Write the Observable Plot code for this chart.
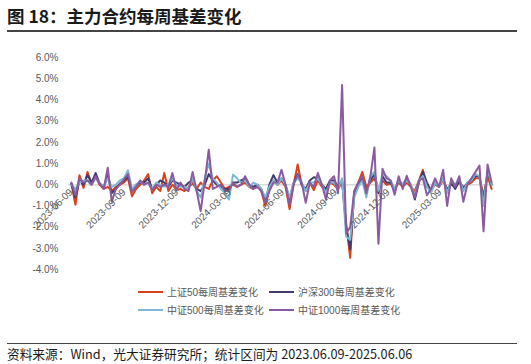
<!DOCTYPE html>
<html><head><meta charset="utf-8">
<script src="https://cdn.jsdelivr.net/npm/d3@7"></script>
<script src="https://cdn.jsdelivr.net/npm/@observablehq/plot@0.6"></script>
<style>
body{margin:0;width:531px;height:364px;position:relative;background:#fff;overflow:hidden;font-family:"Liberation Sans","Noto Sans CJK SC",sans-serif}
#title{position:absolute;left:7px;top:3px;font-weight:bold;font-size:17.5px;font-family:"Noto Sans CJK SC",sans-serif;color:#1a1a1a;white-space:nowrap}
#tline{position:absolute;left:7px;top:30px;width:510px;height:1.5px;background:#444}
#chart{position:absolute;left:0;top:0}
.lg{position:absolute;font-size:10px;color:#595959;font-family:"Liberation Sans","Noto Sans CJK SC",sans-serif;white-space:nowrap;line-height:14px}
.sw{display:inline-block;width:25px;height:2px;vertical-align:middle;margin-right:4px;position:relative;top:-1px}
#bline{position:absolute;left:7px;top:343px;width:510px;height:1px;background:#444}
#src{position:absolute;left:7px;top:344px;font-size:12.7px;color:#1a1a1a;font-family:"Noto Sans CJK SC",sans-serif;white-space:nowrap}
</style></head>
<body>
<div id="title">图 18：主力合约每周基差变化</div>
<div id="tline"></div>
<div id="chart"></div>
<div id="legend"></div>
<div id="bline"></div>
<div id="src">资料来源：Wind，光大证券研究所；统计区间为 2023.06.09-2025.06.06</div>
<script>
const seriesNames = ["上证50每周基差变化","沪深300每周基差变化","中证500每周基差变化","中证1000每周基差变化"];
const seriesColors = ["#D4431B","#3F3B6E","#7DB8D2","#8A5B9E"];
const tickLabels = ["2023-06-09","2023-09-09","2023-12-09","2024-03-09","2024-06-09","2024-09-09","2024-12-09","2025-03-09"];
const yTicks = [-4,-3,-2,-1,0,1,2,3,4,5,6];
const startDate = "2023-06-09";
const weekCount = 105;

const sz50 = [0.05,-0.95,0.45,-0.15,0.6,0.05,0.35,0.0,-0.2,-0.1,
 -0.3,-0.1,0.0,0.1,0.3,-0.55,-0.2,0.0,0.2,0.5,
 -0.4,-0.1,-0.3,0.55,-0.3,0.0,-0.25,-0.2,-0.3,-0.1,
 0.05,-0.2,0.1,-0.1,-0.2,0.2,0.4,0.1,-0.2,-0.1,
 0.0,-0.1,0.0,0.1,-0.1,-0.2,0.0,-0.3,-1.0,-0.2,
 0.2,0.0,0.2,-0.1,-1.15,0.0,0.95,0.0,-0.3,0.1,
 -0.25,0.2,-0.1,-0.3,0.1,0.0,-0.2,0.1,-1.8,-3.45,
 -0.3,0.1,0.6,-0.1,0.1,0.3,-0.2,0.2,0.0,0.05,
 -0.2,0.1,-0.1,0.1,-0.1,-0.3,0.2,0.7,-0.1,-0.2,
 0.0,-0.1,0.2,-0.2,0.0,-0.1,0.1,-0.1,0.0,0.1,
 0.3,0.3,-0.5,0.4,-0.2];
const hs300 = [0.05,-0.6,0.2,0.0,0.45,0.1,0.55,0.05,-0.15,0.5,
 -0.4,-0.2,0.05,0.2,0.4,-0.3,0.0,0.1,0.1,0.3,
 -0.2,0.0,0.2,0.1,-0.1,0.2,0.1,0.0,-0.1,0.1,
 0.2,-0.2,-0.3,0.0,0.5,0.2,0.0,-0.1,-0.2,-0.2,
 0.1,0.1,0.2,0.3,0.0,-0.1,0.0,-0.2,-0.8,0.0,
 0.45,0.1,0.3,0.0,-0.7,0.1,0.5,0.0,-0.2,0.2,
 0.35,0.3,0.0,-0.2,0.2,0.2,-0.1,0.2,-2.0,-3.05,
 -0.4,0.0,0.3,-0.3,0.2,0.5,-0.4,0.4,0.1,0.1,
 -0.3,0.2,0.0,0.3,0.0,-0.7,0.1,0.6,0.1,-0.3,
 0.1,-0.1,0.3,-0.3,0.1,-0.2,0.2,-0.2,0.1,0.2,
 0.4,0.4,-0.8,0.6,0.0];
const zz500 = [0.0,-0.2,0.1,0.2,0.2,0.0,0.3,0.1,-0.1,0.3,
 -0.1,0.0,0.2,0.3,0.68,-0.2,0.0,0.15,0.0,0.1,
 -0.2,0.1,0.0,-0.1,0.0,0.3,0.0,-0.1,-0.1,-0.2,
 0.3,-0.3,-0.6,0.3,1.0,0.3,0.1,-0.2,-0.4,-0.7,
 0.47,0.3,0.1,0.2,-0.1,0.1,0.0,-0.2,-0.6,-0.1,
 0.2,0.0,0.3,0.0,-0.6,0.1,0.3,0.1,-0.3,0.1,
 0.1,0.3,0.0,-0.4,0.1,0.1,-0.2,0.3,-2.45,-2.6,
 -0.6,-0.1,0.2,-0.6,0.4,0.6,-0.3,0.5,0.4,0.2,
 -0.2,0.2,0.0,0.2,0.0,-0.5,0.2,0.4,-0.1,-0.4,
 0.1,-0.1,0.3,-0.4,0.2,0.0,0.3,-0.3,0.1,0.2,
 0.5,0.4,-1.0,0.7,0.0];
const zz1000 = [0.1,-0.5,0.3,0.1,0.2,0.0,0.4,0.05,-0.2,0.8,
 -0.8,-0.2,0.0,0.25,0.5,-0.35,-0.1,0.2,0.0,0.1,
 -0.25,0.0,-0.1,0.0,-0.1,0.55,-0.25,0.1,-0.2,-0.3,
 0.6,-0.3,-1.25,0.15,1.65,-0.2,-0.1,0.0,-0.3,-0.3,
 0.1,-0.1,0.0,0.4,0.0,-0.2,-0.1,-0.3,-0.85,-0.3,
 0.1,0.1,0.7,0.0,-0.95,0.0,0.47,0.1,-0.85,0.1,
 -0.1,0.55,0.0,-0.7,0.2,0.4,-0.4,4.7,-2.3,-2.0,
 -0.3,0.1,0.4,-0.4,0.4,1.75,-2.78,0.75,0.3,0.2,
 -0.47,0.4,-0.2,0.42,-0.1,-0.6,0.2,0.3,-0.5,-0.2,
 0.3,-0.1,0.7,-1.0,0.3,-0.1,0.4,-0.8,0.0,0.3,
 0.6,0.9,-2.2,0.95,0.1];

const seriesValues = [sz50, hs300, zz500, zz1000];
const t0 = new Date(startDate + "T00:00:00Z");
const dates = d3.range(weekCount).map(i => d3.utcDay.offset(t0, 7 * i));
const rows = [];
seriesValues.forEach((vals, s) => vals.forEach((v, i) => rows.push({date: dates[i], value: v, name: seriesNames[s]})));
const tickRows = tickLabels.map(l => ({date: new Date(l + "T00:00:00Z"), label: l}));

const chart = Plot.plot({
  width: 531, height: 285,
  marginLeft: 68, marginRight: 37, marginTop: 57, marginBottom: 16,
  style: {fontFamily: "'Liberation Sans','Noto Sans CJK SC',sans-serif", background: "transparent"},
  x: {type: "utc", domain: [d3.utcDay.offset(t0, -5), d3.utcDay.offset(dates[dates.length - 1], 5)], axis: null},
  y: {domain: [-4, 6], label: null},
  color: {domain: seriesNames, range: seriesColors},
  marks: [
    Plot.axisY({ticks: yTicks, tickFormat: d => d.toFixed(1) + "%", tickSize: 0, tickPadding: 10, label: null, fontSize: 10, color: "#595959"}),
    Plot.ruleY([0], {stroke: "#d9d9d9", strokeWidth: 1.5}),
    Plot.line(rows, {x: "date", y: "value", z: "name", stroke: "name", strokeWidth: 2}),
    Plot.text(tickRows, {x: "date", y: () => 0, text: "label", rotate: -45, textAnchor: "end", lineAnchor: "top", dx: -3, dy: 3, fontSize: 10, fill: "#595959"})
  ]
});
document.getElementById("chart").appendChild(chart);

const legendPos = [[138, 286], [269, 286], [138, 304], [269, 304]];
const lg = document.getElementById("legend");
seriesNames.forEach((n, i) => {
  const d = document.createElement("div");
  d.className = "lg";
  d.style.left = legendPos[i][0] + "px";
  d.style.top = legendPos[i][1] + "px";
  d.innerHTML = `<span class="sw" style="background:${seriesColors[i]}"></span>${n}`;
  lg.appendChild(d);
});
</script>
</body></html>
